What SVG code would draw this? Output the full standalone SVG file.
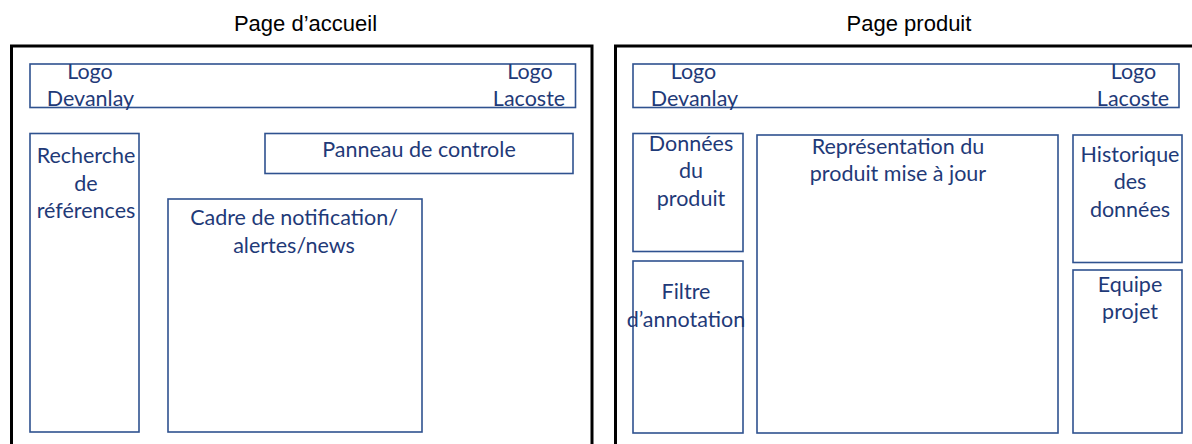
<svg xmlns="http://www.w3.org/2000/svg" width="1192" height="444" viewBox="0 0 1192 444">
  <style>
    .frame { fill: none; stroke: #000000; stroke-width: 3; }
    .box { fill: #FFFFFF; stroke: #2F528F; stroke-width: 1.6; }
    .title { font-family: "Liberation Sans", Arial, sans-serif; font-size: 22px; fill: #000000; text-anchor: middle; }
    .lbl { font-family: Lato, "Open Sans", sans-serif; font-size: 21.5px; fill: #1F3A78; text-anchor: middle; }
  </style>
  <rect x="0" y="0" width="1192" height="444" fill="#FFFFFF"/>

  <g id="page-accueil">
    <text class="title" x="305.5" y="31">Page d’accueil</text>
    <rect class="frame" x="11.5" y="46" width="580.5" height="410"/>
  </g>
  <g id="page-produit">
    <text class="title" x="909" y="31">Page produit</text>
    <rect class="frame" x="615.5" y="46" width="590" height="410"/>
  </g>

  <g id="logo-bar-accueil">
    <rect class="box" x="30" y="64" width="545.5" height="43.5"/>
    <text class="lbl" x="90" y="79">Logo</text>
    <text class="lbl" x="90.5" y="106">Devanlay</text>
    <text class="lbl" x="530" y="79">Logo</text>
    <text class="lbl" x="529" y="106">Lacoste</text>
  </g>
  <g id="recherche">
    <rect class="box" x="30" y="133.5" width="109" height="298.5"/>
    <text class="lbl" x="86" y="163">Recherche</text>
    <text class="lbl" x="86" y="190.5">de</text>
    <text class="lbl" x="86" y="218">références</text>
  </g>
  <g id="panneau">
    <rect class="box" x="265" y="133.5" width="308" height="40"/>
    <text class="lbl" x="419" y="156.5">Panneau de controle</text>
  </g>
  <g id="cadre">
    <rect class="box" x="168" y="199" width="254" height="233"/>
    <text class="lbl" x="294" y="225">Cadre de notification/</text>
    <text class="lbl" x="294" y="252.5">alertes/news</text>
  </g>

  <g id="logo-bar-produit">
    <rect class="box" x="633" y="64" width="546" height="43.5"/>
    <text class="lbl" x="693.5" y="79">Logo</text>
    <text class="lbl" x="694.5" y="106">Devanlay</text>
    <text class="lbl" x="1133.5" y="79">Logo</text>
    <text class="lbl" x="1133" y="106">Lacoste</text>
  </g>
  <g id="donnees-produit">
    <rect class="box" x="633" y="133.5" width="110" height="118"/>
    <text class="lbl" x="691" y="150.5">Données</text>
    <text class="lbl" x="691" y="178">du</text>
    <text class="lbl" x="691" y="206">produit</text>
  </g>
  <g id="filtre">
    <rect class="box" x="633" y="261" width="110" height="172"/>
    <text class="lbl" x="686" y="299">Filtre</text>
    <text class="lbl" x="686" y="326.5">d’annotation</text>
  </g>
  <g id="representation">
    <rect class="box" x="757" y="135" width="301" height="298"/>
    <text class="lbl" x="898" y="154">Représentation du</text>
    <text class="lbl" x="898" y="180.5">produit mise à jour</text>
  </g>
  <g id="historique">
    <rect class="box" x="1073" y="135" width="109" height="127.5"/>
    <text class="lbl" x="1130" y="161.5">Historique</text>
    <text class="lbl" x="1130" y="189">des</text>
    <text class="lbl" x="1130" y="216.5">données</text>
  </g>
  <g id="equipe">
    <rect class="box" x="1073" y="270" width="109" height="163"/>
    <text class="lbl" x="1130" y="291.5">Equipe</text>
    <text class="lbl" x="1130" y="319">projet</text>
  </g>
</svg>
